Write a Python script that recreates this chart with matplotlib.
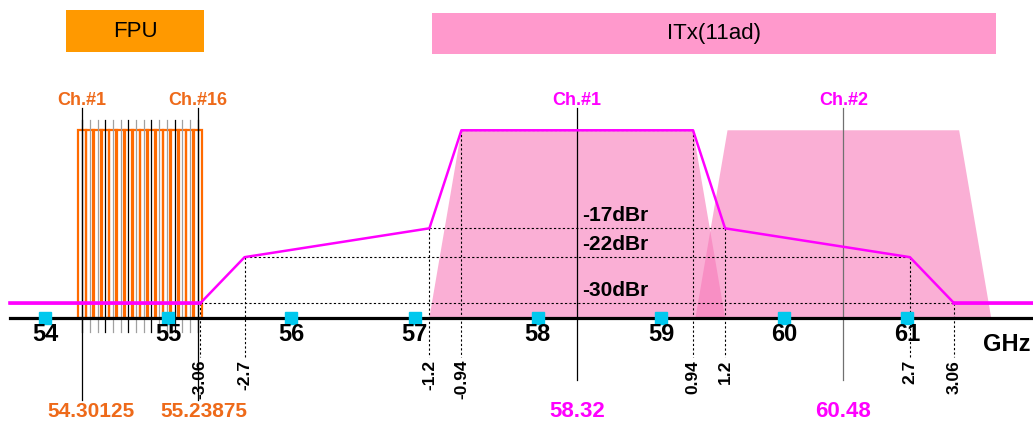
import matplotlib
matplotlib.use('Agg')
import matplotlib.pyplot as plt
from matplotlib.patches import Rectangle, Polygon

plt.rcParams['font.family'] = ['Liberation Sans', 'DejaVu Sans']

# Eje de frecuencias (GHz)
ticks_ghz = [54, 55, 56, 57, 58, 59, 60, 61]

# Canales FPU (centros en GHz)
fpu_centros = [54.30125, 54.36375, 54.42625, 54.48875, 54.55125, 54.61375,
               54.67625, 54.73875, 54.80125, 54.86375, 54.92625, 54.98875,
               55.05125, 55.11375, 55.17625, 55.23875]
fpu_ancho = 0.068

# Canales ITx (11ad)
itx_centros = [58.32, 60.48]
itx_nombres = ["Ch.#1", "Ch.#2"]
itx_mitad_arriba = 0.94
itx_mitad_abajo = 1.2

# Mascara espectral relativa al canal 1
mascara_off = [-3.06, -2.7, -1.2, -0.94, 0.94, 1.2, 2.7, 3.06]
mascara_dbr = [-30, -22, -17, 0, 0, -17, -22, -30]
piso_dbr = -30
niveles_etiqueta = [-17, -22, -30]

base = -32.5          # nivel de la linea del eje
x_min, x_max = 53.6347, 62.0195
y_min, y_max = -50.41, 22.59

naranja = '#FF6A00'
naranja_txt = '#EE6A1A'
magenta = '#FF00FF'
rosa = '#F77AB9'
cian = '#00C8EE'

fig = plt.figure(figsize=(10.33, 4.21), dpi=100)
ax = fig.add_axes([0, 0, 1, 1])
ax.set_xlim(x_min, x_max)
ax.set_ylim(y_min, y_max)
ax.axis('off')

# Trapecios rosas de los canales ITx
for c in itx_centros:
    pts = [(c - itx_mitad_abajo, base), (c - itx_mitad_arriba, 0),
           (c + itx_mitad_arriba, 0), (c + itx_mitad_abajo, base)]
    ax.add_patch(Polygon(pts, closed=True, facecolor=rosa, edgecolor='none',
                         alpha=0.6, zorder=1))

# Canales FPU (rectangulos naranjas)
for c in fpu_centros:
    ax.add_patch(Rectangle((c - fpu_ancho / 2, base), fpu_ancho, 0 - base,
                           fill=False, edgecolor=naranja, lw=1.6, zorder=2))

# Lineas de centro de los canales FPU
for i, c in enumerate(fpu_centros):
    col = 'black' if i % 3 == 0 else '#A0A0A0'
    ax.plot([c, c], [1.8, -35.0], color=col, lw=0.9, zorder=3)
for c in [fpu_centros[0], fpu_centros[-1]]:
    ax.plot([c, c], [3.85, -46.8], color='black', lw=0.9, zorder=3)

# Lineas de centro de los canales ITx
ax.plot([itx_centros[0]] * 2, [3.85, -43.3], color='black', lw=0.9, zorder=3)
ax.plot([itx_centros[1]] * 2, [3.85, -43.3], color='#707070', lw=0.9, zorder=3)

# Lineas punteadas de la mascara
c1 = itx_centros[0]
n = len(mascara_off)
for i in range(n // 2):
    ax.plot([c1 + mascara_off[i], c1 + mascara_off[n - 1 - i]],
            [mascara_dbr[i], mascara_dbr[i]], color='black', lw=0.8,
            ls=(0, (2, 2)), zorder=3)
for off, db in zip(mascara_off, mascara_dbr):
    ax.plot([c1 + off, c1 + off], [db, -39.3], color='black', lw=0.8,
            ls=(0, (2, 2)), zorder=3)
    ax.text(c1 + off, -39.8, '{:g}'.format(off), rotation=90, ha='center',
            va='top', fontsize=12.5, fontweight='bold', zorder=7)

# Mascara magenta
mx = [x_min + 0.085] + [c1 + o for o in mascara_off] + [x_max]
my = [piso_dbr] + mascara_dbr + [piso_dbr]
ax.plot(mx, my, color=magenta, lw=1.8, zorder=4)
ax.plot([mx[0], mx[1]], [piso_dbr, piso_dbr], color=magenta, lw=2.6, zorder=4)
ax.plot([mx[-2], mx[-1]], [piso_dbr, piso_dbr], color=magenta, lw=2.6, zorder=4)

# Etiquetas dBr
for lv in niveles_etiqueta:
    ax.text(c1 + 0.04, lv + 0.5, '{}dBr'.format(lv), ha='left', va='bottom',
            fontsize=15, fontweight='bold', zorder=7)

# Eje de frecuencias
ax.plot([x_min + 0.085, x_max], [base, base], color='black', lw=2.3, zorder=5)
ax.plot(ticks_ghz, [base] * len(ticks_ghz), 's', color=cian, ms=8.5,
        mec=cian, zorder=6)
for t in ticks_ghz:
    ax.text(t, -35.4, str(t), ha='center', va='center', fontsize=17,
            fontweight='bold', zorder=7)
ax.text(61.81, -37.2, 'GHz', ha='center', va='center', fontsize=17,
        fontweight='bold', zorder=7)

# Etiquetas de canales
ax.text(fpu_centros[0], 5.25, 'Ch.#1', ha='center', va='center', fontsize=13,
        fontweight='bold', color=naranja_txt, zorder=7)
ax.text(fpu_centros[-1], 5.25, 'Ch.#16', ha='center', va='center', fontsize=13,
        fontweight='bold', color=naranja_txt, zorder=7)
for c, nom in zip(itx_centros, itx_nombres):
    ax.text(c, 5.25, nom, ha='center', va='center', fontsize=13,
            fontweight='bold', color=magenta, zorder=7)

# Frecuencias centrales abajo
ax.text(fpu_centros[0] + 0.07, -48.7, '{:.5f}'.format(fpu_centros[0]), ha='center',
        va='center', fontsize=15, fontweight='bold', color=naranja_txt)
ax.text(fpu_centros[-1] + 0.05, -48.7, '{:.5f}'.format(fpu_centros[-1]), ha='center',
        va='center', fontsize=15, fontweight='bold', color=naranja_txt)
for c in itx_centros:
    ax.text(c, -48.7, '{:.2f}'.format(c), ha='center', va='center', fontsize=16,
            fontweight='bold', color=magenta)

# Cajas superiores
tr = ax.get_xaxis_transform()
ax.add_patch(Rectangle((54.17, 0.8765), 55.29 - 54.17, 0.0995, transform=tr,
                       facecolor='#FF9900', edgecolor='none', zorder=5))
ax.text((54.17 + 55.29) / 2, 0.926, 'FPU', transform=tr, ha='center', va='center',
        fontsize=16, zorder=6)
ax.add_patch(Rectangle((57.14, 0.872), 61.72 - 57.14, 0.097, transform=tr,
                       facecolor='#FF99CC', edgecolor='none', zorder=5))
ax.text((57.14 + 61.72) / 2, 0.921, 'ITx(11ad)', transform=tr, ha='center',
        va='center', fontsize=16, zorder=6)

fig.savefig('out.png', dpi=100)
